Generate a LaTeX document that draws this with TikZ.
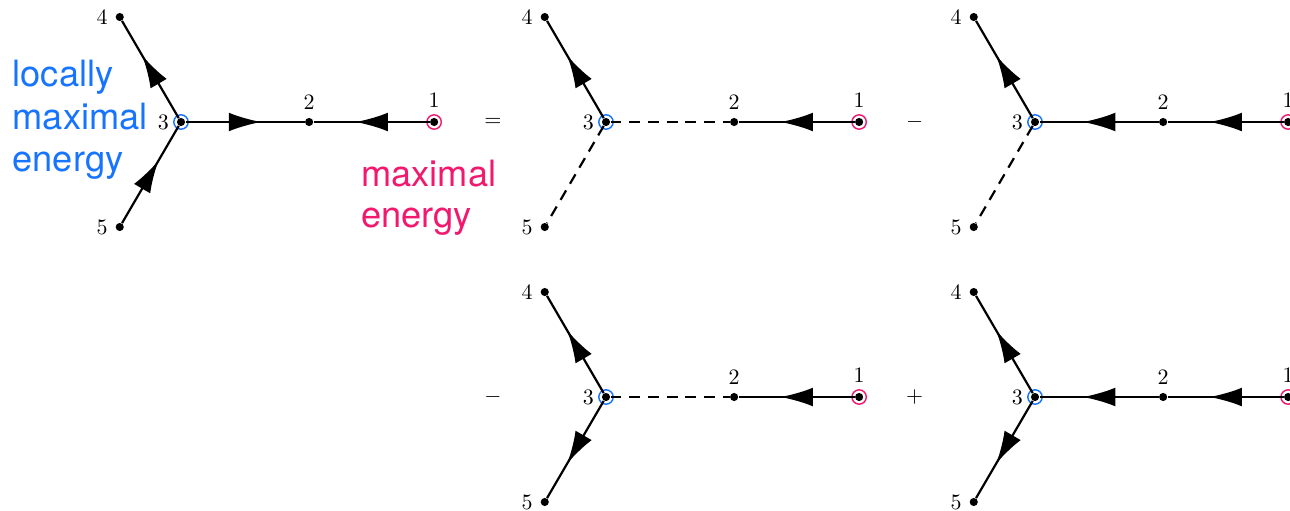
\documentclass[tikz,border=0pt]{standalone}
\usepackage{fontspec}
\usepackage{xcolor}
\usepackage{tikz}
\usetikzlibrary{arrows.meta,decorations.markings}

\newfontfamily\helv{TeX Gyre Heros}

\tikzset{
  vtx/.style={circle, fill=black, inner sep=0pt, minimum size=1.3mm},
  anello/.style={circle, draw=#1, line width=0.65pt, inner sep=0pt, minimum size=2.3mm},
  lin/.style={line width=1pt},
  frecc/.style={lin, postaction={decorate},
    decoration={markings, mark=at position 0.5 with {\arrow[xshift=2.6mm]{Latex[length=5.2mm,width=3mm]}}}},
  tratt/.style={lin, dash pattern=on 5pt off 3.5pt},
  segno/.style={font=\normalsize},
}

\begin{document}
\begin{tikzpicture}

% Colori
\definecolor{colLoc}{HTML}{1774FF}
\definecolor{colMax}{HTML}{F2186E}

% Bordi della figura
\useasboundingbox (-2.896,-6.208) rectangle (17.744,1.952);

% Diagramma di partenza
\node[anello=colLoc] (a3r) at (0,0) {};
\node[anello=colMax] (a1r) at (4.05,0) {};
\node[vtx, label={left:$3$}] (a3) at (0,0) {};
\node[vtx, label={above:$2$}] (a2) at (2.05,0) {};
\node[vtx, label={[label distance=1pt]above:$1$}] (a1) at (4.05,0) {};
\node[vtx, label={left:$4$}] (a4) at (-0.98,1.68) {};
\node[vtx, label={left:$5$}] (a5) at (-0.98,-1.68) {};
\draw[frecc] (a3) -- (a2);
\draw[frecc] (a1) -- (a2);
\draw[frecc] (a3) -- (a4);
\draw[frecc] (a5) -- (a3);

% Etichette colorate
\node[anchor=north west, inner sep=0pt, align=left, text=colLoc,
  font=\helv\fontsize{16.5}{19.3}\selectfont] (tLoc) at (-2.70,0.99) {locally\\maximal\\energy};
\node[anchor=north west, inner sep=0pt, align=left, text=colMax,
  font=\helv\fontsize{16.5}{18.4}\selectfont] (tMax) at (2.88,-0.61) {maximal\\energy};

% Segni
\node[segno] (s1) at (4.99,0) {$=$};
\node[segno] (s2) at (11.74,0) {$-$};
\node[segno] (s3) at (4.99,-4.4) {$-$};
\node[segno] (s4) at (11.74,-4.4) {$+$};

% Primo termine
\begin{scope}[shift={(6.8,0)}]
\node[anello=colLoc] (b3r) at (0,0) {};
\node[anello=colMax] (b1r) at (4.05,0) {};
\node[vtx, label={left:$3$}] (b3) at (0,0) {};
\node[vtx, label={above:$2$}] (b2) at (2.05,0) {};
\node[vtx, label={[label distance=1pt]above:$1$}] (b1) at (4.05,0) {};
\node[vtx, label={left:$4$}] (b4) at (-0.98,1.68) {};
\node[vtx, label={left:$5$}] (b5) at (-0.98,-1.68) {};
\draw[tratt] (b3) -- (b2);
\draw[frecc] (b1) -- (b2);
\draw[frecc] (b3) -- (b4);
\draw[tratt] (b3) -- (b5);
\end{scope}

% Secondo termine
\begin{scope}[shift={(13.664,0)}]
\node[anello=colLoc] (c3r) at (0,0) {};
\node[anello=colMax] (c1r) at (4.05,0) {};
\node[vtx, label={left:$3$}] (c3) at (0,0) {};
\node[vtx, label={above:$2$}] (c2) at (2.05,0) {};
\node[vtx, label={[label distance=1pt]above:$1$}] (c1) at (4.05,0) {};
\node[vtx, label={left:$4$}] (c4) at (-0.98,1.68) {};
\node[vtx, label={left:$5$}] (c5) at (-0.98,-1.68) {};
\draw[frecc] (c2) -- (c3);
\draw[frecc] (c1) -- (c2);
\draw[frecc] (c3) -- (c4);
\draw[tratt] (c3) -- (c5);
\end{scope}

% Terzo termine
\begin{scope}[shift={(6.8,-4.4)}]
\node[anello=colLoc] (d3r) at (0,0) {};
\node[anello=colMax] (d1r) at (4.05,0) {};
\node[vtx, label={left:$3$}] (d3) at (0,0) {};
\node[vtx, label={above:$2$}] (d2) at (2.05,0) {};
\node[vtx, label={[label distance=1pt]above:$1$}] (d1) at (4.05,0) {};
\node[vtx, label={left:$4$}] (d4) at (-0.98,1.68) {};
\node[vtx, label={left:$5$}] (d5) at (-0.98,-1.68) {};
\draw[tratt] (d3) -- (d2);
\draw[frecc] (d1) -- (d2);
\draw[frecc] (d3) -- (d4);
\draw[frecc] (d3) -- (d5);
\end{scope}

% Quarto termine
\begin{scope}[shift={(13.664,-4.4)}]
\node[anello=colLoc] (e3r) at (0,0) {};
\node[anello=colMax] (e1r) at (4.05,0) {};
\node[vtx, label={left:$3$}] (e3) at (0,0) {};
\node[vtx, label={above:$2$}] (e2) at (2.05,0) {};
\node[vtx, label={[label distance=1pt]above:$1$}] (e1) at (4.05,0) {};
\node[vtx, label={left:$4$}] (e4) at (-0.98,1.68) {};
\node[vtx, label={left:$5$}] (e5) at (-0.98,-1.68) {};
\draw[frecc] (e2) -- (e3);
\draw[frecc] (e1) -- (e2);
\draw[frecc] (e3) -- (e4);
\draw[frecc] (e3) -- (e5);
\end{scope}

\end{tikzpicture}
\end{document}
